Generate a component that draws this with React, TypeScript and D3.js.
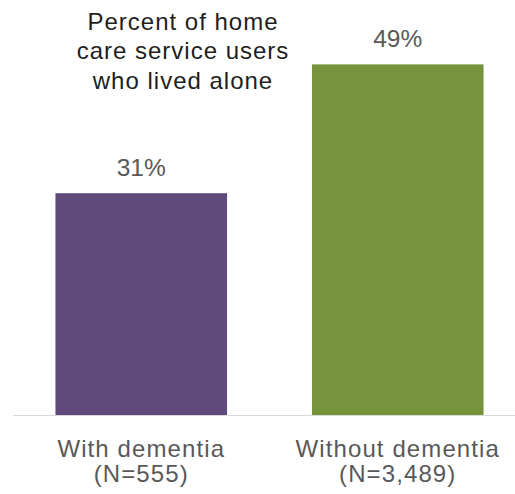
import React from "react";
import * as d3 from "d3";

const categories = ["With dementia", "Without dementia"];
const categorySub = ["(N=555)", "(N=3,489)"];
const values = [31, 49];
const valueLabels = ["31%", "49%"];
const barColors = ["#5F4A7B", "#77933C"];
const titleLines = ["Percent of home", "care service users", "who lived alone"];

const W = 515;
const H = 494;

export default function App() {
  const x = d3
    .scaleBand<string>()
    .domain(categories)
    .range([13, 526])
    .paddingInner(0.331)
    .paddingOuter(0.1655);
  const y = d3.scaleLinear().domain([0, 58]).range([415, 0]);
  const font = "'Liberation Sans', Arial, sans-serif";

  return (
    <svg
      width={W}
      height={H}
      style={{ position: "absolute", left: 0, top: 0, background: "#fff" }}
    >
      {categories.map((c, i) => (
        <rect
          key={c}
          x={x(c)!}
          y={y(values[i])}
          width={x.bandwidth()}
          height={y(0) - y(values[i])}
          fill={barColors[i]}
        />
      ))}
      <line x1={13} x2={515} y1={y(0) + 0.5} y2={y(0) + 0.5} stroke="#d9d9d9" strokeWidth={1.2} />
      {categories.map((c, i) => (
        <text
          key={"v" + c}
          x={x(c)! + x.bandwidth() / 2}
          y={y(values[i]) - 17}
          textAnchor="middle"
          fontFamily={font}
          fontSize={24.5}
          fill="#595959"
        >
          {valueLabels[i]}
        </text>
      ))}
      {categories.map((c, i) => (
        <g key={"l" + c} fontFamily={font} fontSize={24} fill="#595959" textAnchor="middle" letterSpacing={1.1}>
          <text x={x(c)! + x.bandwidth() / 2} y={457}>
            {c}
          </text>
          <text x={x(c)! + x.bandwidth() / 2} y={482}>
            {categorySub[i]}
          </text>
        </g>
      ))}
      <g fontFamily={font} fontSize={24} fill="#1e1e1e" textAnchor="middle" letterSpacing={1.0}>
        {titleLines.map((t, i) => (
          <text key={t} x={183} y={29.5 + i * 29.5}>
            {t}
          </text>
        ))}
      </g>
    </svg>
  );
}
